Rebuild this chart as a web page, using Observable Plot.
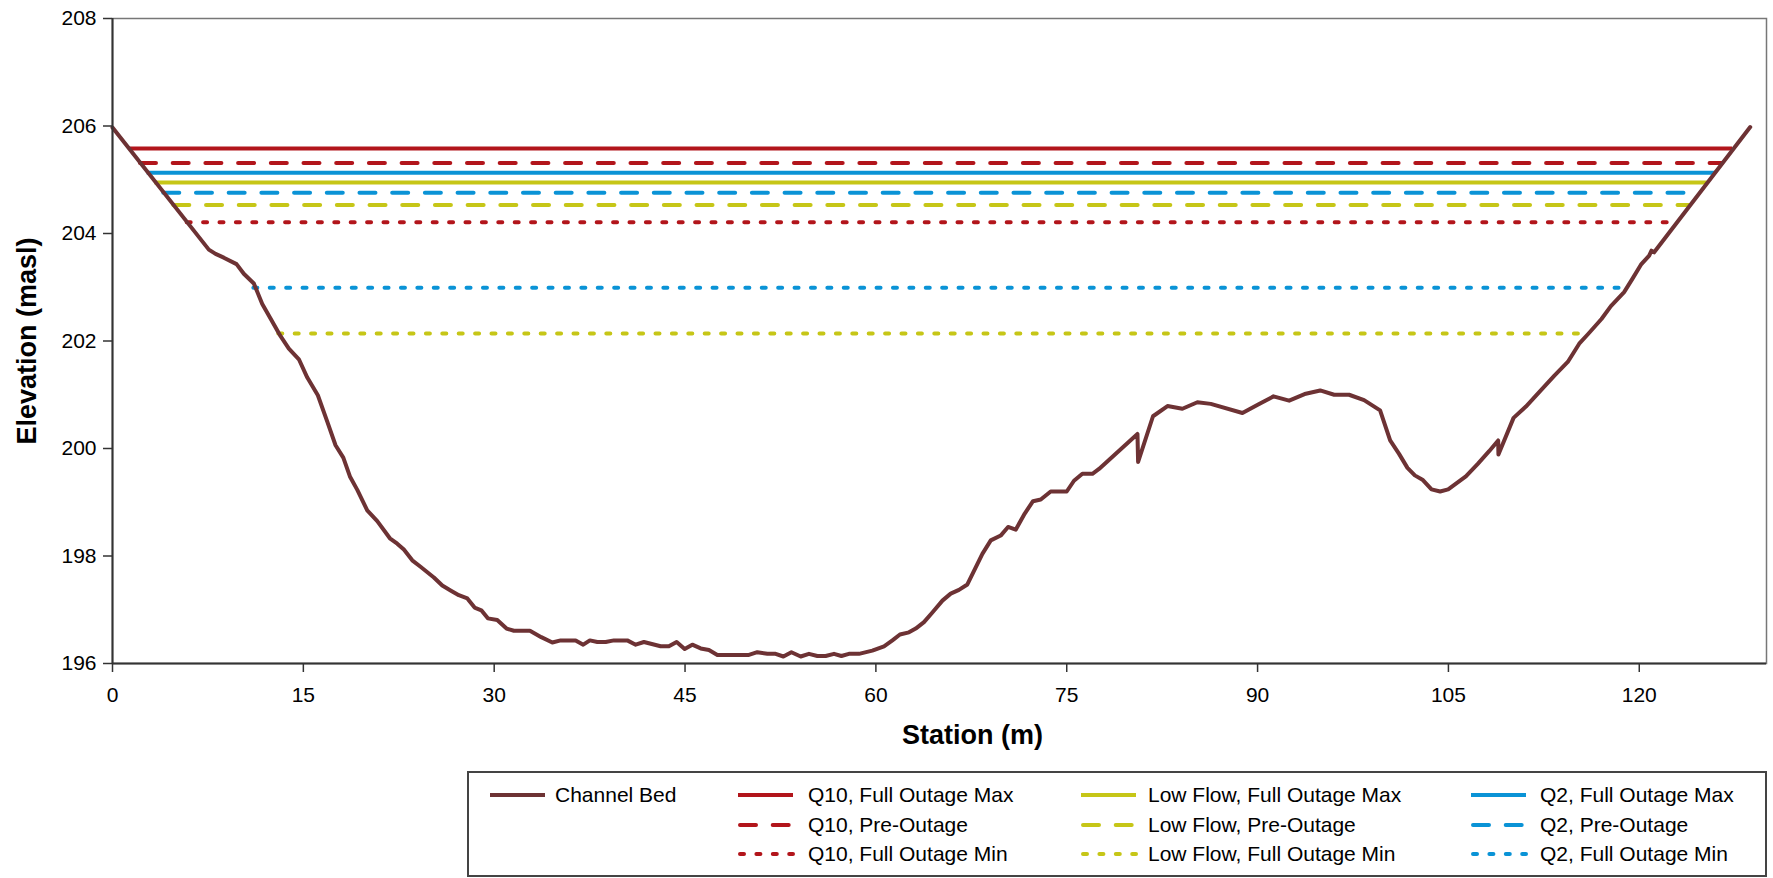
<!DOCTYPE html>
<html><head><meta charset="utf-8">
<script src="https://cdn.jsdelivr.net/npm/d3@7"></script>
<script src="https://cdn.jsdelivr.net/npm/@observablehq/plot@0.6"></script>
<style>
body{margin:0;background:#fff;font-family:"Liberation Sans",Arial,sans-serif;}
#wrap{position:relative;width:1773px;height:878px;overflow:hidden;}
#legend{position:absolute;left:0;top:760px;}
</style></head><body><div id="wrap"><div id="chart"></div><div id="legend"></div></div>
<script>
// ---- data ----
const bedName = "Channel Bed";
const bedStation = [0,7.57,8.10,8.75,9.75,10.32,11.11,11.77,12.42,13.21,13.86,14.65,15.31,16.14,16.88,17.53,18.14,18.66,19.24,20.02,20.81,21.80,22.38,22.90,23.56,24.21,25.26,25.92,26.57,27.22,27.89,28.46,28.99,29.50,30.24,30.97,31.55,32.81,33.70,34.57,35.22,36.40,37.00,37.52,38.11,38.76,39.41,40.46,41.12,41.77,43.08,43.73,44.34,44.97,45.57,46.23,46.88,47.54,50.02,50.68,51.47,52.12,52.73,53.36,54.09,54.74,55.40,56.05,56.71,57.29,57.88,58.67,59.72,60.64,61.30,61.89,62.60,63.13,63.78,64.44,65.23,65.88,66.53,67.19,68.37,69.03,69.81,70.39,70.99,71.70,72.35,72.96,73.74,75.00,75.57,76.23,77.02,77.54,80.56,80.61,81.78,82.92,84.09,85.27,86.32,88.81,90.12,91.25,92.48,93.79,94.92,96.02,97.19,98.37,99.63,100.42,101.12,101.78,102.36,102.96,103.67,104.35,104.98,106.37,107.29,108.20,108.91,108.93,110.12,111.09,112.26,113.31,114.38,115.28,115.98,117.03,117.77,118.81,119.47,120.13,120.78,120.96,121.17,128.72];
const bedElevation = [205.97,203.70,203.62,203.55,203.43,203.25,203.07,202.69,202.42,202.09,201.86,201.66,201.32,200.99,200.50,200.06,199.83,199.48,199.23,198.85,198.65,198.33,198.23,198.12,197.92,197.80,197.60,197.45,197.36,197.27,197.21,197.04,196.99,196.84,196.81,196.65,196.61,196.61,196.49,196.39,196.43,196.43,196.35,196.43,196.40,196.40,196.43,196.43,196.35,196.40,196.32,196.32,196.40,196.27,196.35,196.28,196.25,196.16,196.16,196.21,196.18,196.18,196.13,196.21,196.13,196.18,196.14,196.14,196.18,196.14,196.18,196.18,196.24,196.32,196.43,196.54,196.58,196.65,196.77,196.95,197.17,197.30,197.37,197.47,198.04,198.29,198.38,198.54,198.49,198.79,199.02,199.05,199.20,199.20,199.40,199.53,199.53,199.62,200.27,199.75,200.60,200.79,200.74,200.86,200.83,200.66,200.83,200.97,200.89,201.02,201.08,201.00,201.00,200.90,200.71,200.15,199.90,199.64,199.50,199.42,199.24,199.20,199.24,199.48,199.71,199.95,200.15,199.89,200.57,200.78,201.08,201.35,201.61,201.95,202.13,202.41,202.65,202.91,203.16,203.42,203.59,203.68,203.65,205.98];

const levelNames = ["Q10, Full Outage Max","Q10, Pre-Outage","Q10, Full Outage Min","Low Flow, Full Outage Max","Low Flow, Pre-Outage","Low Flow, Full Outage Min","Q2, Full Outage Max","Q2, Pre-Outage","Q2, Full Outage Min"];
const levelElevation = [205.58,205.31,204.21,204.95,204.53,202.14,205.13,204.76,202.99];
const levelStart = [1.36,2.20,5.87,3.33,4.82,13.07,2.73,4.03,11.11];
const levelEnd = [127.33,126.55,122.88,125.37,123.98,115.80,126.02,124.45,119.08];

const xTicks = [0,15,30,45,60,75,90,105,120];
const yTicks = [196,198,200,202,204,206,208];
const xLabel = "Station (m)";
const yLabel = "Elevation (masl)";

// ---- styles ----
const FONT = '"Liberation Sans", Arial, sans-serif';
const bedColor = "#6D3234";
const RED = "#B2151B", YEL = "#C6C617", BLU = "#0A93D6";
const levelColors = [RED,RED,RED,YEL,YEL,YEL,BLU,BLU,BLU];
const DASH = "16,16.7", DOT = "4,12.4";
const levelDash = [undefined,DASH,DOT,undefined,DASH,DOT,undefined,DASH,DOT];

const bed = bedStation.map((x,i)=>({x, y: bedElevation[i]}));
const levels = levelNames.map((name,i)=>({name, y: levelElevation[i], x1: levelStart[i], x2: levelEnd[i]}));

const levelMarks = levels.map((d,i) => Plot.ruleY([d], {
  y: "y", x1: "x1", x2: "x2",
  stroke: levelColors[i], strokeWidth: 4,
  strokeDasharray: levelDash[i],
  strokeLinecap: levelDash[i] ? "round" : "butt"
}));

const chart = Plot.plot({
  width: 1773, height: 760,
  marginLeft: 112, marginRight: 7, marginTop: 18, marginBottom: 97,
  style: {fontFamily: FONT, fontSize: "21px", color: "#000", background: "#fff", overflow: "visible"},
  x: {domain: [0,130], label: null},
  y: {domain: [196,208], label: null},
  marks: [
    Plot.frame({stroke: "#777", strokeWidth: 1.5}),
    ...levelMarks,
    Plot.line(bed, {x: "x", y: "y", stroke: bedColor, strokeWidth: 4, strokeLinejoin: "round", strokeLinecap: "round"}),
    Plot.ruleX([0], {stroke: "#333", strokeWidth: 2}),
    Plot.ruleY([196], {stroke: "#333", strokeWidth: 2}),
    Plot.axisX({ticks: xTicks, tickSize: 9, tickPadding: 15, stroke: "#333", strokeWidth: 1.5, label: null, fontSize: 21}),
    Plot.axisY({ticks: yTicks, tickSize: 9, tickPadding: 7, stroke: "#333", strokeWidth: 1.5, label: null, fontSize: 21}),
    Plot.text([xLabel], {text: d => d, frameAnchor: "bottom", textAnchor: "middle", lineAnchor: "middle", dy: 72, dx: 33, fontWeight: "bold", fontSize: 27, fill: "#000"}),
    Plot.text([yLabel], {text: d => d, frameAnchor: "left", textAnchor: "middle", lineAnchor: "middle", dx: -85, dy: 0, rotate: -90, fontWeight: "bold", fontSize: 27, fill: "#000"})
  ]
});
document.getElementById("chart").appendChild(chart);

// ---- legend (below the chart) ----
const lg = d3.select("#legend").append("svg").attr("width", 1773).attr("height", 118)
  .style("font-family", FONT).style("font-size", "21px");
lg.append("rect").attr("x", 468).attr("y", 12).attr("width", 1298).attr("height", 104)
  .attr("fill", "#fff").attr("stroke", "#444").attr("stroke-width", 2);
const colSample = [490, 738, 1081, 1471];
const colText = [555, 808, 1148, 1540];
const rowY = [35, 65, 94];
const entries = [{name: bedName, color: bedColor, dash: undefined, col: 0, row: 0}]
  .concat(levelNames.map((n,i)=>({name: n, color: levelColors[i], dash: levelDash[i], col: 1 + Math.floor(i/3), row: i%3})));
for (const e of entries) {
  const y = rowY[e.row];
  const l = lg.append("line").attr("x1", colSample[e.col] + (e.dash ? 2 : 0)).attr("x2", colSample[e.col] + 55)
    .attr("y1", y).attr("y2", y).attr("stroke", e.color).attr("stroke-width", 4);
  if (e.dash) l.attr("stroke-dasharray", e.dash).attr("stroke-linecap", "round");
  lg.append("text").attr("x", colText[e.col]).attr("y", y).attr("dy", "0.35em").attr("fill", "#000").text(e.name);
}
</script></body></html>
